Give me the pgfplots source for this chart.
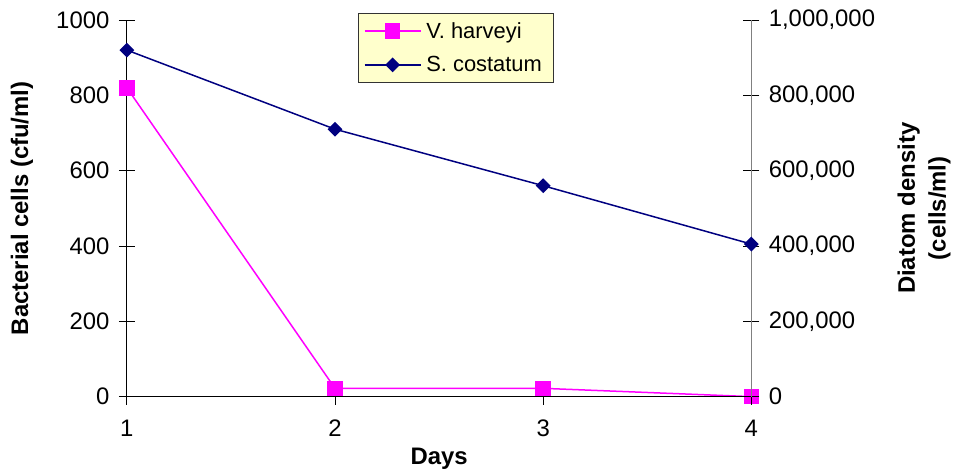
\documentclass[border=0pt]{standalone}
\usepackage{pgfplots}
\pgfplotsset{compat=1.18}
\usepackage{fontspec}
\setmainfont{Liberation Sans}
\definecolor{vh}{HTML}{FF00FF}
\definecolor{sc}{HTML}{000080}
\definecolor{legfill}{HTML}{FFFFCC}
\begin{document}
\begin{tikzpicture}
\pgfplotsset{
  base/.style={
    scale only axis, width=625bp, height=377bp,
    xmin=1, xmax=4,
    /pgf/number format/assume math mode=true,
    tick label style={font=\fontsize{24}{28}\selectfont},
    label style={font=\bfseries\fontsize{24}{31}\selectfont},
  }
}
% main axis: left y, x labels, V. harveyi
\begin{axis}[base,
  ymin=0, ymax=1000,
  axis x line*=bottom, axis y line*=left,
  xtick={1,2,3,4}, ytick={0,200,...,1000},
  /pgf/number format/1000 sep={},
  tick align=center, major tick length=16bp,
  xtick style={draw=none},
  axis line style={black, line width=0.8bp},
  ytick style={black, line width=0.8bp},
  yticklabel style={xshift=-6bp},
  xticklabel style={yshift=-12bp},
  xlabel={Days}, ylabel={Bacterial cells (cfu/ml)},
  xlabel style={at={(axis description cs:0.5,-0.1645)}, anchor=center},
  ylabel style={at={(axis description cs:-0.168,0.5)}, anchor=center, rotate=0},
]
\addplot[color=vh, line width=1.5bp, mark=square*, mark size=7bp, mark options={fill=vh, draw=vh}]
  coordinates {(1,820) (2,22) (3,22) (4,0)};
\end{axis}
% x ticks outside
\begin{axis}[base,
  ymin=0, ymax=1000,
  axis x line*=bottom, axis y line=none,
  xtick={1,2,3,4}, xticklabels={},
  tick align=outside, major tick length=8bp,
  axis line style={black, line width=0.8bp},
  xtick style={black, line width=0.8bp},
]
\end{axis}
% right axis: S. costatum
\begin{axis}[base,
  ymin=0, ymax=1000000,
  axis y line*=right, axis x line=none,
  ytick={0,200000,400000,600000,800000,1000000},
  scaled y ticks=false,
  /pgf/number format/1000 sep={,},
  /pgf/number format/fixed,
  yticklabel style={xshift=6bp},
  tick align=center, major tick length=16bp,
  y axis line style={color=gray, line width=1bp},
  ytick style={black, line width=0.8bp},
  ylabel={Diatom density\\(cells/ml)},
  ylabel style={at={(axis description cs:1.2768,0.5)}, anchor=center, align=center, rotate=0},
  legend style={at={(0.3696,1.0186)}, anchor=north west, fill=legfill, draw=black!80,
    font=\fontsize{22}{26}\selectfont, inner xsep=6bp, inner ysep=7bp, row sep=13bp,
    nodes={inner xsep=5bp}},
  legend cell align=left,
  legend image code/.code={\draw[#1, mark repeat=2, mark phase=2] plot coordinates {(0bp,0bp) (28bp,0bp) (56bp,0bp)};},
]
\addlegendimage{color=vh, line width=1.5bp, mark=square*, mark size=7bp, mark options={fill=vh, draw=vh}}
\addlegendentry{V. harveyi}
\addplot[color=sc, line width=1.5bp, mark=square*, mark size=4.5bp, mark options={fill=sc, draw=sc, rotate=45}]
  coordinates {(1,920000) (2,710000) (3,560000) (4,405000)};
\addlegendentry{S. costatum}
\end{axis}
\path (-127bp,-78bp) rectangle (827bp,397bp);
\end{tikzpicture}
\end{document}
